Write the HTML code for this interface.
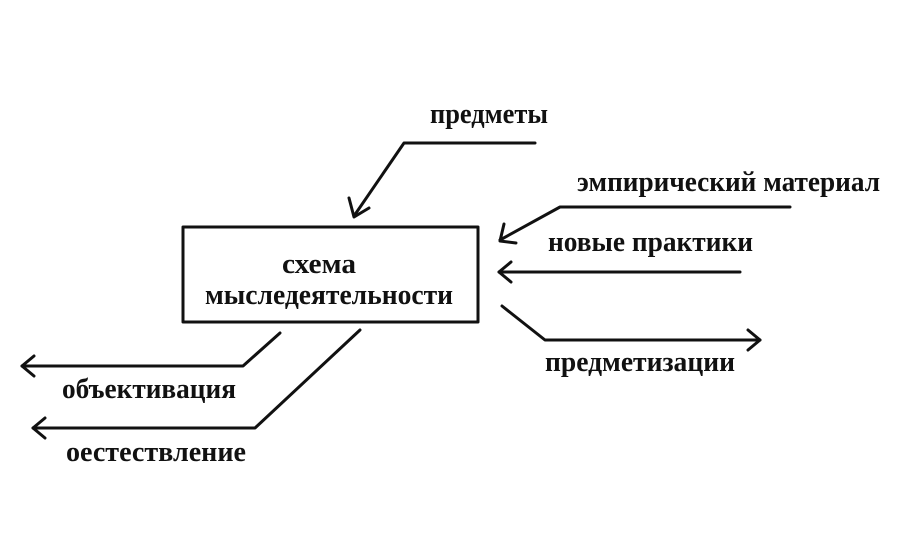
<!DOCTYPE html>
<html><head><meta charset="utf-8"><style>
html,body{margin:0;padding:0;background:#fff;}
svg{display:block;}
text{font-family:"Liberation Serif",serif;font-weight:bold;font-size:29px;fill:#111;}
</style></head><body>
<svg width="921" height="542" viewBox="0 0 921 542" xmlns="http://www.w3.org/2000/svg">
<g fill="none" stroke="#111" stroke-width="3" stroke-linecap="round" stroke-linejoin="round">
<rect x="183" y="227" width="295" height="95"/>
<polyline points="535,143 404,143 354,216"/>
<polyline points="349,198 354,217 369,208"/>
<polyline points="790,207 560,207 500,240"/>
<polyline points="504,224 500,241 516,243"/>
<line x1="740" y1="272" x2="499" y2="272"/>
<polyline points="511,262 499,272 511,282"/>
<polyline points="502,306 545,340 760,340"/>
<polyline points="748,330 760,340 748,350"/>
<polyline points="280,333 243,366 22,366"/>
<polyline points="34,356 22,366 34,376"/>
<polyline points="360,330 255,428 33,428"/>
<polyline points="45,418 33,428 45,438"/>
</g>
<text x="430" y="123" textLength="118" lengthAdjust="spacingAndGlyphs">предметы</text>
<text x="577" y="191" textLength="303" lengthAdjust="spacingAndGlyphs">эмпирический материал</text>
<text x="548" y="251" textLength="205" lengthAdjust="spacingAndGlyphs">новые практики</text>
<text x="545" y="371" textLength="190" lengthAdjust="spacingAndGlyphs">предметизации</text>
<text x="62" y="398" textLength="174" lengthAdjust="spacingAndGlyphs">объективация</text>
<text x="66" y="461" textLength="180" lengthAdjust="spacingAndGlyphs">оестествление</text>
<text x="282" y="273" textLength="74" lengthAdjust="spacingAndGlyphs">схема</text>
<text x="205" y="304" textLength="248" lengthAdjust="spacingAndGlyphs">мыследеятельности</text>
</svg>
</body></html>
